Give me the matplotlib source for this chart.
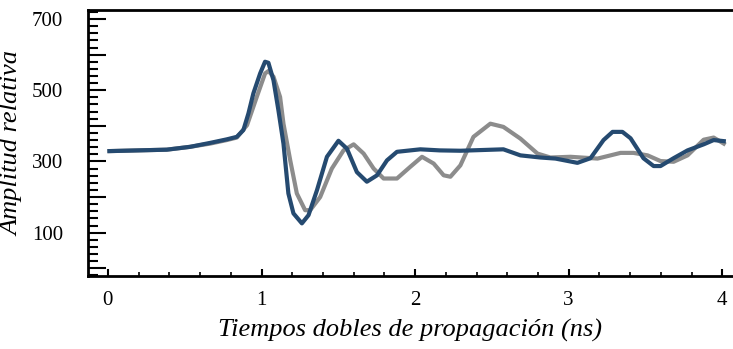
import numpy as np
import matplotlib
matplotlib.use("Agg")
import matplotlib.pyplot as plt
from matplotlib.ticker import MultipleLocator, FuncFormatter

# two-way travel time (ns) and relative amplitude, traza medida (azul) y sintética (gris)
t_azul = [0.01, 0.383, 0.535, 0.665, 0.774, 0.839, 0.882, 0.915, 0.947, 0.991,
          1.023, 1.045, 1.078, 1.110, 1.143, 1.175, 1.208, 1.263, 1.306, 1.361,
          1.426, 1.501, 1.556, 1.621, 1.686, 1.752, 1.817, 1.882, 2.034, 2.16,
          2.295, 2.575, 2.686, 2.816, 2.914, 3.057, 3.142, 3.227, 3.286, 3.35,
          3.403, 3.487, 3.553, 3.598, 3.683, 3.774, 3.879, 3.944, 4.01]
a_azul = [329, 333, 341, 352, 362, 369, 388, 435, 491, 547,
          580, 577, 528, 444, 350, 210, 154, 126, 149, 219,
          313, 358, 336, 270, 243, 261, 303, 327, 334, 331,
          330, 334, 317, 311, 308, 296, 309, 360, 383, 383,
          365, 309, 287, 287, 309, 331, 348, 360, 357]

t_gris = [0.01, 0.383, 0.535, 0.665, 0.774, 0.839, 0.906, 0.969, 1.023, 1.045,
          1.078, 1.121, 1.143, 1.187, 1.230, 1.284, 1.317, 1.382, 1.458, 1.534,
          1.600, 1.665, 1.730, 1.795, 1.882, 1.969, 2.045, 2.121, 2.186, 2.230,
          2.295, 2.38, 2.49, 2.575, 2.686, 2.797, 2.881, 3.012, 3.188, 3.338,
          3.422, 3.514, 3.598, 3.683, 3.774, 3.879, 3.944, 4.01]
a_gris = [329, 333, 341, 350, 360, 367, 402, 481, 547, 554,
          538, 481, 406, 303, 210, 163, 163, 200, 280, 331,
          348, 322, 280, 252, 252, 285, 313, 294, 261, 257,
          289, 369, 406, 397, 364, 322, 311, 313, 308, 324,
          324, 317, 301, 299, 317, 361, 367, 350]

plt.rcParams['font.family'] = ['Liberation Serif', 'DejaVu Serif']

fig = plt.figure(figsize=(7.33, 3.49), dpi=100)
ax = fig.add_axes([0.120, 0.209, 0.880, 0.762])

ax.plot(t_gris, a_gris, color='#8c8c8c', lw=3.0, solid_joinstyle='round')
ax.plot(t_azul, a_azul, color='#254a70', lw=3.0, solid_joinstyle='round')

ax.set_xlim(-0.13, 4.07)
ax.set_ylim(-22, 725)

ax.xaxis.set_major_locator(MultipleLocator(1))
ax.xaxis.set_minor_locator(MultipleLocator(0.2))
ax.yaxis.set_major_locator(MultipleLocator(100))
ax.yaxis.set_minor_locator(MultipleLocator(20))
# sólo se rotulan las centenas impares
ax.yaxis.set_major_formatter(FuncFormatter(
    lambda v, p: f"{int(round(v))}" if int(round(v)) % 200 == 100 else ""))

ax.tick_params(axis='x', which='major', direction='in', length=5, width=1.5,
               labelsize=15, pad=11)
ax.tick_params(axis='x', which='minor', direction='in', length=3, width=1.2)
ax.tick_params(axis='y', which='major', direction='in', length=13, width=1.5,
               labelsize=15, pad=18)
ax.tick_params(axis='y', which='minor', direction='in', length=7, width=1.5)

for s in ['left', 'bottom', 'top']:
    ax.spines[s].set_linewidth(2)
ax.spines['right'].set_visible(False)

ax.set_xlabel('Tiempos dobles de propagación (ns)', fontsize=19, style='italic', labelpad=6)
ax.set_ylabel('Amplitud relativa', fontsize=19, style='italic', labelpad=6)

fig.savefig('out.png', dpi=100)
